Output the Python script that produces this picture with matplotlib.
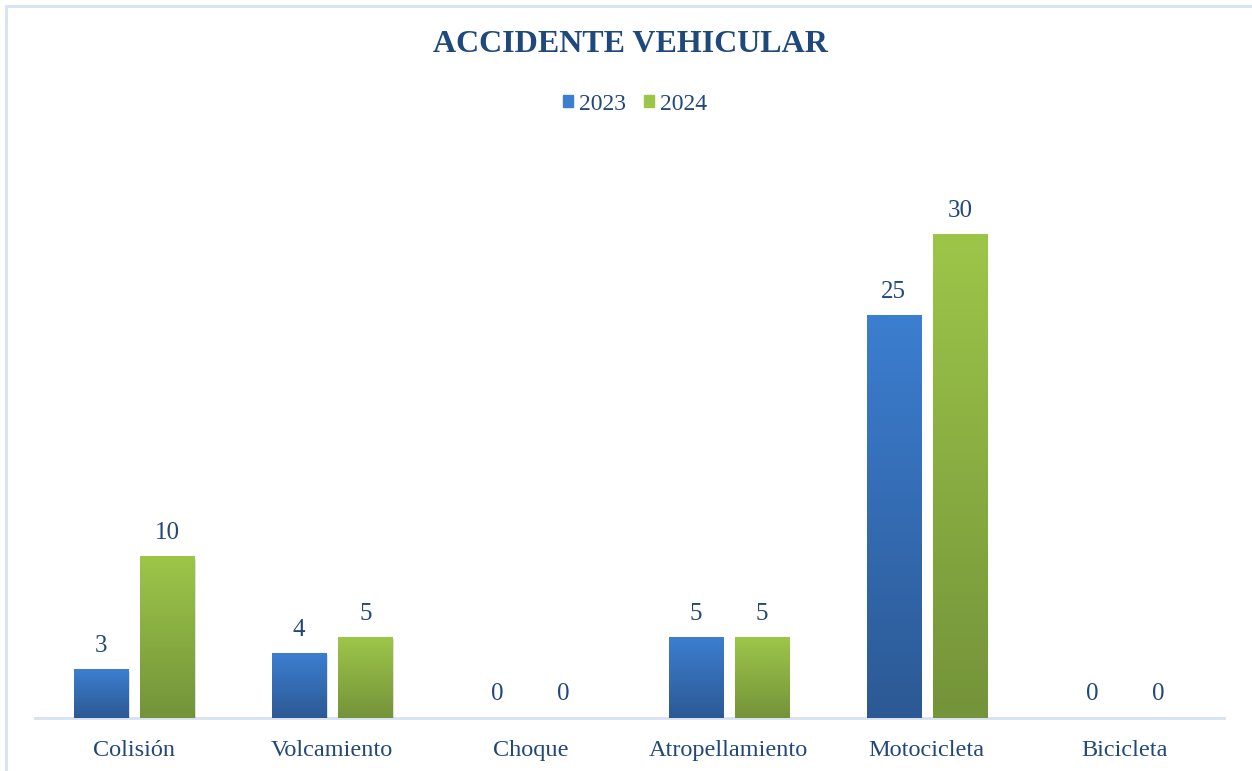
import numpy as np
import matplotlib
matplotlib.use("Agg")
import matplotlib.pyplot as plt
from matplotlib.colors import LinearSegmentedColormap
from matplotlib.patches import Rectangle

categories = ["Colisión", "Volcamiento", "Choque", "Atropellamiento", "Motocicleta", "Bicicleta"]
series_names = ["2023", "2024"]
values_2023 = [3, 4, 0, 5, 25, 0]
values_2024 = [10, 5, 0, 5, 30, 0]

text_color = "#224879"
title_color = "#1F497D"
blue_top, blue_bot = "#3C7ED0", "#2C5994"
green_top, green_bot = "#9DC649", "#74933A"

plt.rcParams['font.family'] = ['Liberation Serif', 'DejaVu Serif']

fig = plt.figure(figsize=(12.52, 7.71), dpi=100)
W, H = 1252, 771
ax = fig.add_axes([35 / W, 1 - 718 / H, (1224 - 35) / W, (718 - 170) / H])

x = np.arange(len(categories))
bw = 54 / 198
off = 33 / 198

bars1 = ax.bar(x - off, values_2023, bw, color="none", edgecolor="none", zorder=3)
bars2 = ax.bar(x + off, values_2024, bw, color="none", edgecolor="none", zorder=3)

grad = np.linspace(0, 1, 256).reshape(-1, 1)
cmap_b = LinearSegmentedColormap.from_list("b", [blue_bot, blue_top])
cmap_g = LinearSegmentedColormap.from_list("g", [green_bot, green_top])

for bars, cmap, vals in [(bars1, cmap_b, values_2023), (bars2, cmap_g, values_2024)]:
    for b, v in zip(bars, vals):
        x0, w, h = b.get_x(), b.get_width(), b.get_height()
        if h > 0:
            sh = Rectangle((x0 + 0.008, -0.12), w, h, color="#000000", alpha=0.12, zorder=2, lw=0)
            ax.add_patch(sh)
            ax.imshow(grad, extent=(x0, x0 + w, 0, h), origin="lower", cmap=cmap,
                      aspect="auto", zorder=3, interpolation="bilinear")
        ax.annotate(str(v), (x0 + w / 2, h), xytext=(0, 9), textcoords="offset points",
                    ha="center", va="bottom", fontsize=18, color=text_color, zorder=4)

ax.set_xlim(-0.5, len(categories) - 0.5)
ax.set_ylim(0, 34)
ax.set_xticks(x)
ax.set_xticklabels(categories, fontsize=17.5, color=text_color)
ax.tick_params(axis="x", length=0, pad=16)
ax.set_yticks([])
for s in ["top", "right", "left"]:
    ax.spines[s].set_visible(False)
ax.spines["bottom"].set_color("#D6E2F3")
ax.spines["bottom"].set_linewidth(2)
ax.spines["bottom"].set_zorder(1)

fig.text(630 / W, 1 - 44 / H, "ACCIDENTE VEHICULAR", ha="center", va="center",
         fontsize=23, fontweight="bold", color=title_color)

handles = [Rectangle((0, 0), 1, 1, color=blue_top), Rectangle((0, 0), 1, 1, color=green_top)]
leg = fig.legend(handles, series_names, loc="center", bbox_to_anchor=(635 / W, 1 - 104 / H),
                 ncol=2, frameon=False, fontsize=17, handlelength=0.45, handleheight=0.45,
                 handletextpad=0.25, columnspacing=0.75, labelcolor=text_color)

fig.patches.append(Rectangle((6 / W, -0.05), 1.2, 1 - 6 / H + 0.05, transform=fig.transFigure,
                             fill=False, edgecolor="#D6E2F3", lw=2))

fig.savefig("out.png", dpi=100)
